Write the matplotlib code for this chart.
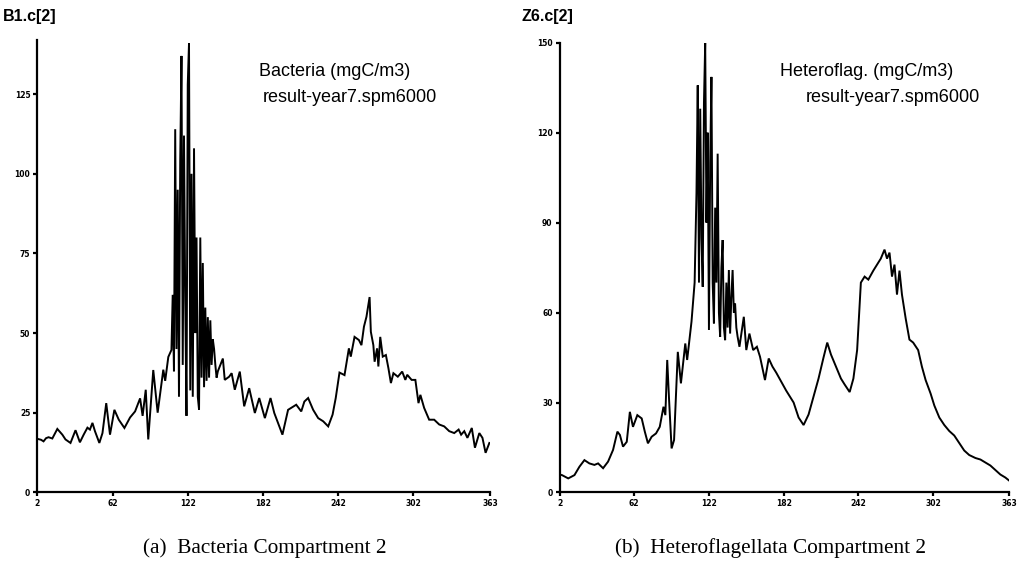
import matplotlib
matplotlib.use('Agg')
import matplotlib.pyplot as plt

# bacteria, compartment 2 (day, mgC/m3)
bac_day = [2, 5, 7, 9, 11, 14, 18, 22, 24.5, 28.5, 32.5, 36, 39, 42, 44, 46, 48, 51.5, 54, 57,
           60, 63.5, 67, 71.5, 76, 80, 84, 86, 88.5, 90.5, 94.5, 98, 102.5, 104, 106.5, 109,
           110, 111, 112, 113, 114, 115, 116, 117, 118, 119, 120, 121, 122, 123, 124, 125,
           126, 127, 128, 129, 130, 131, 132, 133, 134, 135, 136, 137, 138, 139, 140, 141,
           142, 143, 144, 145, 146,
           150, 151.5, 155, 157, 159.5, 163.5, 167, 171, 175.5, 179, 183.5, 188, 191, 197.5,
           202, 208.5, 212.5, 215, 218, 222, 226, 230, 234, 237.5, 240, 243, 247, 250.5, 252,
           255, 258.5, 260.5, 262.5, 264.5, 267, 268, 270, 271, 273, 274, 275.5, 277.5, 280,
           282, 284, 286, 289.5, 293, 295.5, 297, 300.5, 303.5, 306, 307.5, 310.5, 314.5,
           318.5, 322.5, 326.5, 330.5, 334.5, 338, 340, 342.5, 345, 348.5, 351, 354.5, 357,
           359.5, 362.5]
bac_val = [16.8, 16.5, 16, 17, 17.3, 16.9, 19.9, 18.1, 16.6, 15.5, 19.5, 15.7, 18.1, 20.3, 19.7,
           21.8, 19.2, 15.5, 18.6, 28, 18.1, 25.9, 22.8, 20.2, 23.5, 25.4, 29.5, 24, 32.2, 16.6,
           38.4, 25, 38.5, 35, 42.5, 44.7,
           62, 38, 114, 45, 95, 30, 104, 137, 40, 112, 60, 24, 128, 141, 32, 100,
           30, 108, 50, 80, 30, 26, 80, 36, 72, 33, 58, 35, 55, 36, 54, 40,
           48, 45, 40, 36, 38,
           42, 35.3, 36.3, 37.4, 32.2, 37.9, 27, 32.7, 24.9, 29.6, 23.3, 29.6, 24.9, 18.1,
           25.9, 27.5, 25.4, 28.5, 29.6, 25.9, 23.3, 22.3, 20.7, 24.4, 29.6, 37.6, 36.8, 45.2,
           42.6, 48.8, 47.8, 46.2, 52, 55.1, 61.3, 50.4, 46.2, 41, 45.2, 39.5, 48.8, 42.6,
           43.1, 39, 34.3, 37.4, 36.3, 37.9, 35.3, 36.9, 35.3, 35.3, 28, 30.6, 26.5, 22.8,
           22.8, 21.3, 20.7, 19.2, 18.6, 19.7, 18.1, 19.2, 17.1, 20.2, 14, 18.6, 17.1,
           12.4, 15.5]

# heteroflagellates, compartment 2 (day, mgC/m3)
het_day = [2, 4, 9, 14, 18, 22, 26, 30, 33, 37, 41, 45, 48.5, 50.5, 53, 56, 58.5, 61, 64.5, 68,
           70.5, 73, 76, 79.5, 82.5, 85.5, 87, 88.5, 90, 92, 94, 97, 99.5, 103, 104.5, 108,
           110.5, 112, 113, 114, 115, 116, 117, 118, 119, 120, 121, 122, 123, 124, 125, 126,
           127, 128, 129, 130, 131, 132, 133, 134, 135, 136, 137, 138, 139, 140, 141, 142,
           143, 144, 145, 146.5, 150, 152, 154.5, 157.5, 160.5, 163, 167, 170,
           173, 176, 180, 184, 187, 190, 194, 198, 202, 206, 210, 214, 217, 220, 224, 228,
           231, 235, 238, 241, 244, 247, 250, 254, 257, 260, 263, 265, 267, 269, 271, 273,
           275, 277, 280, 283, 286, 290, 293, 296, 300, 303, 307, 311, 315, 319, 323, 327,
           331, 336, 340, 344, 348, 352, 356, 360, 363]
het_val = [6, 5.8, 4.7, 5.8, 8.6, 10.8, 9.7, 9.2, 9.7, 8.1, 10.3, 14.2, 20.3, 19.2, 15.3, 16.9,
           26.9, 21.9, 25.8, 24.7, 20.3, 16.4, 18.6, 19.7, 21.9, 28.6, 25.8, 44.2, 30.8, 14.7,
           17.5, 46.9, 36.4, 49.7, 44.2, 57,
           70, 100, 135.8, 70, 128, 85, 68.6, 130, 150, 90, 120, 54.2, 110, 138.6, 70, 56.4,
           95, 70, 113, 60, 51.9, 75, 84.2, 55, 50.8, 70, 55, 74.2, 53, 65, 74.2, 60,
           63, 55, 52, 48.6, 58.6, 47.5, 53, 47.5, 48.6, 45.3, 37.5, 44.7,
           42, 40, 37, 34, 32, 30, 25, 22.5, 26, 32, 38, 45, 50, 46, 42, 38,
           36, 33.5, 38, 47.5, 70, 72, 71, 74, 76, 78, 81, 78, 80, 72, 76, 66,
           74, 66, 58, 51, 50, 47.5, 42, 37.5, 33, 29, 25, 22.5, 20.5, 19, 16.5, 14,
           12.5, 11.5, 11, 10, 9, 7.5, 6, 5, 4]

x_ticks = [2, 62, 122, 182, 242, 302, 363]
bac_yticks = [0, 25, 50, 75, 100, 125]
het_yticks = [0, 30, 60, 90, 120, 150]

fig = plt.figure(figsize=(10.21, 5.79), dpi=100)

panels = [
    ([0.0365, 0.1497, 0.4434, 0.7812], bac_day, bac_val, bac_yticks, 142,
     'B1.c[2]', 0.003, ['Bacteria (mgC/m3)', 'result-year7.spm6000'], [(0.254, 0.877), (0.257, 0.832)],
     '(a)  Bacteria Compartment 2', 0.259),
    ([0.548, 0.1494, 0.4403, 0.7768], het_day, het_val, het_yticks, 150,
     'Z6.c[2]', 0.511, ['Heteroflag. (mgC/m3)', 'result-year7.spm6000'], [(0.764, 0.877), (0.789, 0.832)],
     '(b)  Heteroflagellata Compartment 2', 0.755),
]

for rect, xs, ys, yt, ytop, name, name_x, notes, note_pos, caption, cap_x in panels:
    ax = fig.add_axes(rect)
    ax.plot(xs, ys, color='black', lw=1.4, solid_joinstyle='miter')
    ax.set_xlim(2, 363)
    ax.set_ylim(0, ytop)
    ax.set_xticks(x_ticks)
    ax.set_yticks(yt)
    ax.tick_params(length=3, width=1.6, labelsize=5.5, pad=2)
    for lab in ax.get_xticklabels() + ax.get_yticklabels():
        lab.set_fontweight('bold')
    for s in ['top', 'right']:
        ax.spines[s].set_visible(False)
    for s in ['left', 'bottom']:
        ax.spines[s].set_linewidth(1.6)
    fig.text(name_x, 0.972, name, fontsize=11.5, fontweight='bold', family='Liberation Sans',
             va='center', ha='left')
    for t, (px, py) in zip(notes, note_pos):
        fig.text(px, py, t, fontsize=13, family='Liberation Sans', va='center', ha='left')
    fig.text(cap_x, 0.053, caption, fontsize=15.3, family='Liberation Serif', va='center', ha='center')

fig.savefig('out.png', dpi=100)
